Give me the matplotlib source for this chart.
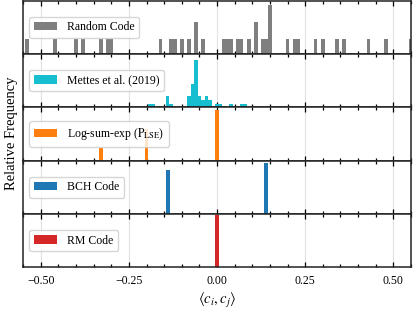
import numpy as np
import matplotlib
matplotlib.use("Agg")
import matplotlib.pyplot as plt
from matplotlib.ticker import MultipleLocator

plt.rcParams['font.family'] = ['Liberation Serif', 'DejaVu Serif']
plt.rcParams['mathtext.fontset'] = 'stix'
plt.rcParams['font.size'] = 8

# Random Code histogram (bin centres, counts)
random_x = [-0.54, -0.46, -0.40, -0.38, -0.33, -0.31, -0.30, -0.16, -0.13, -0.12,
            -0.10, -0.08, -0.06, -0.04, 0.02, 0.03, 0.04, 0.06, 0.07, 0.09,
            0.11, 0.13, 0.14, 0.15, 0.20, 0.22, 0.23, 0.28, 0.30, 0.34,
            0.36, 0.43, 0.48, 0.55]
random_n = [1, 1, 1, 1, 1, 1, 1, 1, 1, 1,
            1, 1, 2, 1, 1, 1, 1, 1, 1, 1,
            2, 1, 1, 3, 1, 1, 1, 1, 1, 1,
            1, 1, 1, 1]

# Mettes et al. (2019)
mettes_x = [-0.19, -0.18, -0.14, -0.13, -0.08, -0.07, -0.06, -0.05, -0.04, -0.03,
            -0.02, 0.00, 0.01, 0.04, 0.07, 0.08]
mettes_n = [1, 1, 3, 1, 3, 6, 12, 3, 2, 3,
            2, 1, 1, 1, 1, 1]

# Log-sum-exp
lse_x = [-0.33, -0.20, 0.00]
lse_n = [2, 5, 8]

# BCH Code
bch_x = [-0.14, 0.14]
bch_n = [7, 8]

# RM Code
rm_x = [0.00]
rm_n = [1]

panels = [
    (random_x, random_n, 'tab:gray', 'Random Code', 0.010, (0.1, 3.24)),
    (mettes_x, mettes_n, 'tab:cyan', 'Mettes et al. (2019)', 0.010, (0.2, 13.37)),
    (lse_x, lse_n, 'tab:orange', r'Log-sum-exp ($\mathrm{P}_{\mathrm{LSE}}$)', 0.010, (0, 8.38)),
    (bch_x, bch_n, 'tab:blue', 'BCH Code', 0.011, (0, 8.4)),
    (rm_x, rm_n, 'tab:red', 'RM Code', 0.013, (0, 1.027)),
]

fig, axes = plt.subplots(5, 1, figsize=(4.15, 3.11), dpi=100, sharex=True)
fig.subplots_adjust(left=0.056, right=0.990, top=0.998, bottom=0.1405, hspace=0)

for ax, (xs, ns, color, label, w, ylim) in zip(axes, panels):
    ax.bar(xs, ns, width=w, color=color, label=label, zorder=2)
    ax.set_xlim(-0.55, 0.55)
    ax.set_ylim(*ylim)
    ax.set_yticks([])
    ax.xaxis.set_major_locator(MultipleLocator(0.25))
    ax.xaxis.set_minor_locator(MultipleLocator(0.05))
    ax.tick_params(axis='x', which='both', direction='in', top=True, bottom=True,
                   width=0.9, labelsize=8.5, pad=5.5)
    ax.tick_params(axis='x', which='major', length=3.5)
    ax.tick_params(axis='x', which='minor', length=2)
    ax.grid(True, axis='x', which='major', color='#e2e2e2', lw=0.8, zorder=0)
    for s in ax.spines.values():
        s.set_linewidth(1.1)
        s.set_color('#222222')
    ax.legend(loc='center left', fontsize=8.5, fancybox=True, framealpha=0.8)

axes[-1].set_xticks([-0.5, -0.25, 0, 0.25, 0.5])
axes[-1].set_xticklabels(['\u22120.50', '\u22120.25', '0.00', '0.25', '0.50'])
axes[-1].set_xlabel(r'$\langle c_i, c_j \rangle$', fontsize=10.5, labelpad=3)
fig.text(0.027, 0.57, 'Relative Frequency', rotation=90, ha='center', va='center', fontsize=10.5)

fig.savefig('out.png', dpi=100)
